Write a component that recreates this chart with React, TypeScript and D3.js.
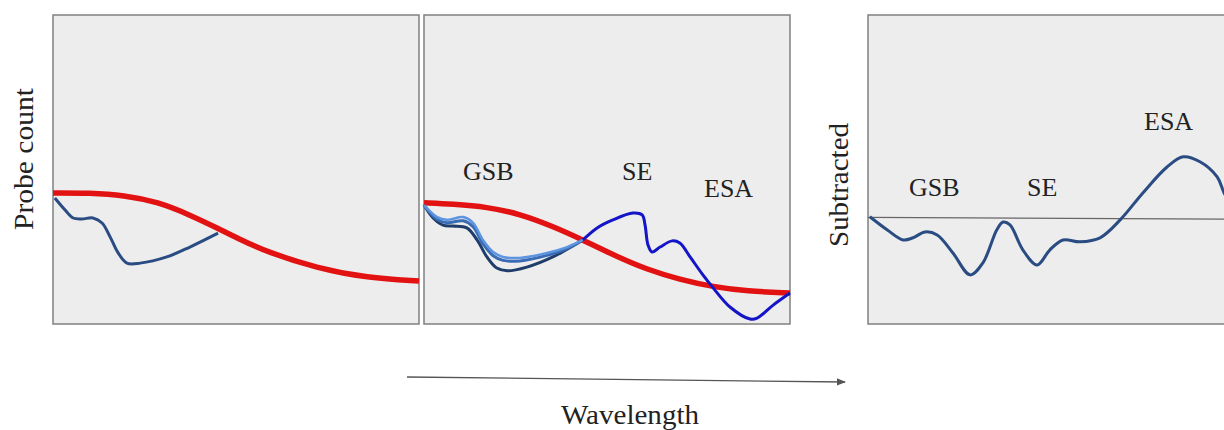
import React from "react";
import * as d3 from "d3";

type P = [number, number];

// Panel 1: probe without pump (red) and ground-state bleach (navy)
const probe1: P[] = [[0, 42.4], [10, 42.4], [19.4, 41.7], [28.7, 39.5], [37.4, 35.3], [44.8, 31.1], [51.4, 27.2], [58.5, 23.3], [72.1, 18.1], [85.8, 14.9], [100, 13.9]];
const gsb1: P[] = [[0.5, 40.8], [3.3, 36.9], [5.5, 34.3], [7.9, 34.0], [10.9, 34.3], [13.4, 32.7], [15.6, 28.2], [17.8, 23.0], [20.2, 19.7], [23.8, 19.7], [31.1, 21.7], [37.4, 24.9], [45.1, 29.4]];

// Panel 2
const probe2: P[] = [[0, 39.2], [7.9, 38.8], [17.2, 37.9], [26.2, 35.6], [35.2, 31.6], [43.4, 27.2], [51.6, 22.4], [60.9, 17.6], [69.9, 14.4], [79, 12], [88.3, 10.6], [100, 10]];
const gsbLight: P[] = [[0, 38.5], [3.6, 34.6], [6.3, 33.7], [10.7, 34.6], [13.4, 32.7], [16.1, 27.2], [18.9, 23.3], [21.6, 21.7], [26.2, 21.4], [33.6, 23.0], [39.1, 24.9], [43.4, 27.2]];
const gsbMid: P[] = [[0, 38.5], [3.6, 33.8], [6.3, 32.8], [10.7, 33.4], [13.4, 31.5], [16.1, 26.0], [18.9, 22.1], [21.6, 20.6], [26.2, 20.4], [33.6, 22.2], [39.1, 24.4], [43.4, 27.2]];
const gsbDark: P[] = [[0, 38.5], [2.5, 34.3], [5.2, 32.0], [7.9, 31.7], [11.7, 31.1], [14.5, 27.2], [17.2, 21.7], [19.9, 18.1], [22.7, 17.2], [28.1, 18.4], [35.2, 21.7], [43.4, 27.2]];
const seEsa2: P[] = [[43.4, 27.2], [47.3, 31.1], [51.6, 33.7], [57.1, 35.9], [59.6, 35.3], [60.4, 32.0], [61.2, 25.6], [62.3, 23.3], [64.5, 24.9], [67.8, 26.9], [69.9, 26.2], [72.7, 21.7], [76.2, 15.9], [79, 11.7], [83.6, 5.5], [89.1, 1.6], [91, 1.9], [95.4, 6.1], [100, 10]];

// Panel 3: subtracted signal
const subtracted: P[] = [[0.5, 0.2], [5.2, -4.0], [9.6, -7.3], [12.3, -6.6], [15.6, -4.7], [18.9, -5.7], [23.2, -11.5], [27.9, -18.6], [31.4, -14.7], [35.2, -4.0], [36.9, -1.5], [38.8, -2.4], [42.3, -10.5], [46.2, -15.4], [49.7, -10.5], [53.3, -7.3], [57.9, -7.9], [63.4, -6.6], [68.9, -0.8], [75.1, 7.9], [81.7, 16.3], [86.1, 19.6], [90.7, 18.0], [95.4, 13.1], [97.3, 7.9], [100, 2.4]];

const labels2 = ["GSB", "SE", "ESA"];
const labels3 = ["GSB", "SE", "ESA"];

const FONT = "'Liberation Serif', 'Times New Roman', serif";
const TEXT = "#222";

export default function App() {
  const top = 15, bottom = 324;
  const W = 366;
  const lefts = [53, 424, 868];
  const xs = lefts.map((l) => d3.scaleLinear().domain([0, 100]).range([l, l + W]));
  const y = d3.scaleLinear().domain([0, 100]).range([bottom, top]);
  const y3 = d3.scaleLinear().domain([-34.5, 65.5]).range([bottom, top]);

  const mk = (sx: d3.ScaleLinear<number, number>, sy: d3.ScaleLinear<number, number>, smooth = false) =>
    d3.line<P>().x((d) => sx(d[0])).y((d) => sy(d[1])).curve(smooth ? d3.curveBasis : d3.curveCatmullRom.alpha(0.5));

  const l1 = mk(xs[0], y);
  const l2 = mk(xs[1], y);
  const r1 = mk(xs[0], y, true);
  const r2 = mk(xs[1], y, true);
  const l3 = mk(xs[2], y3);

  const red = "#e31212";
  const navy = "#2a4c82";

  return (
    <svg width={1224} height={430} style={{ position: "absolute", left: 0, top: 0, background: "#fff" }}>
      <defs>
        <clipPath id="c3">
          <rect x={lefts[2]} y={top} width={W} height={bottom - top} />
        </clipPath>
        <marker id="arr" viewBox="0 0 10 10" refX="9" refY="5" markerWidth="7" markerHeight="7" orient="auto">
          <path d="M0,1 L10,5 L0,9 z" fill="#555" />
        </marker>
      </defs>
      {lefts.map((l, i) => (
        <rect key={i} x={l} y={top} width={W} height={bottom - top} fill="#ededed" stroke="#808080" strokeWidth={1.5} />
      ))}

      {/* Panel 1 */}
      <path d={r1(probe1) || ""} fill="none" stroke={red} strokeWidth={5.5} />
      <path d={l1(gsb1) || ""} fill="none" stroke={navy} strokeWidth={3} />

      {/* Panel 2 */}
      <path d={r2(probe2) || ""} fill="none" stroke={red} strokeWidth={5.5} />
      <path d={l2(gsbDark) || ""} fill="none" stroke="#1f3d6b" strokeWidth={3} />
      <path d={l2(gsbMid) || ""} fill="none" stroke="#3a6cb5" strokeWidth={3} />
      <path d={l2(gsbLight) || ""} fill="none" stroke="#5d95e0" strokeWidth={2.5} />
      <path d={l2(seEsa2) || ""} fill="none" stroke="#1414c8" strokeWidth={3} />

      {/* Panel 3 */}
      <g clipPath="url(#c3)">
        <line x1={xs[2](0)} x2={xs[2](100)} y1={y3(0)} y2={y3(-0.6)} stroke="#666" strokeWidth={1.3} />
        <path d={l3(subtracted) || ""} fill="none" stroke={navy} strokeWidth={3} />
      </g>

      {/* Labels */}
      <g fontFamily={FONT} fontSize={26} fill={TEXT}>
        <text x={463} y={180}>{labels2[0]}</text>
        <text x={622} y={180}>{labels2[1]}</text>
        <text x={704} y={197}>{labels2[2]}</text>
        <text x={909} y={196}>{labels3[0]}</text>
        <text x={1027} y={196}>{labels3[1]}</text>
        <text x={1144} y={130}>{labels3[2]}</text>

        <text transform="translate(33,159) rotate(-90)" textAnchor="middle" fontSize={27} textLength={142} lengthAdjust="spacingAndGlyphs">Probe count</text>
        <text transform="translate(848,185) rotate(-90)" textAnchor="middle" fontSize={27} textLength={124} lengthAdjust="spacingAndGlyphs">Subtracted</text>
        <text x={630} y={424} textAnchor="middle" fontSize={27} textLength={138} lengthAdjust="spacingAndGlyphs">Wavelength</text>
      </g>

      {/* Wavelength arrow */}
      <line x1={407} y1={377} x2={845} y2={382} stroke="#555" strokeWidth={1.3} markerEnd="url(#arr)" />
    </svg>
  );
}
